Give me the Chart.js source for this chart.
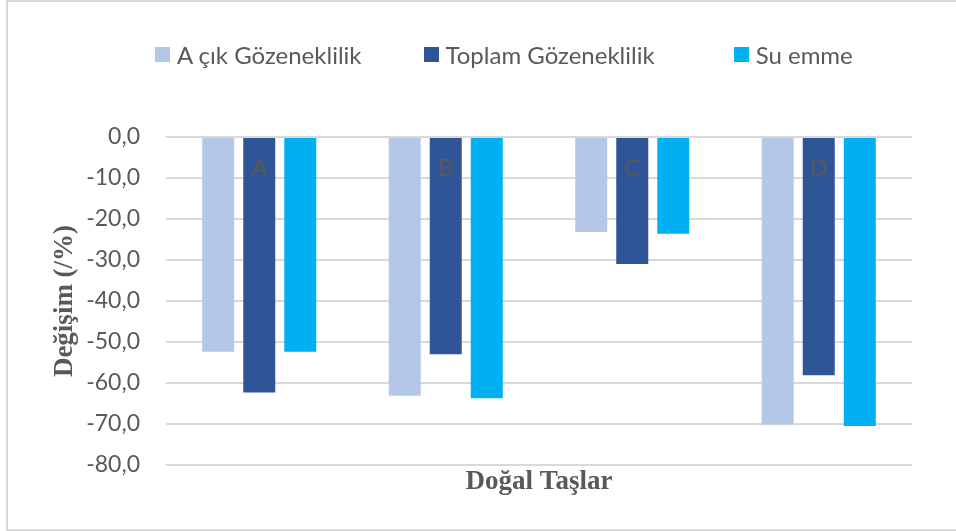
<!DOCTYPE html>
<html>
<head>
<meta charset="utf-8">
<script src="https://cdn.jsdelivr.net/npm/chart.js@4"></script>
<style>
  html, body { margin: 0; padding: 0; background: #ffffff; }
  #wrap { position: relative; width: 956px; height: 531px; overflow: hidden; }
  #frame { position: absolute; left: 6px; top: 0; width: 1000px; height: 527px;
           border-left: 2px solid #d9d9d9; border-top: 2px solid #d9d9d9; border-bottom: 2px solid #d9d9d9; }
  canvas { position: absolute; left: 0; top: 0; }
  #legend { position: absolute; left: 155px; top: 39px; height: 30px; display: flex; align-items: center;
            font-family: Lato, "Open Sans", sans-serif; font-size: 24px; color: #595959; white-space: nowrap; }
  .item { display: flex; align-items: center; }
  .box { width: 15px; height: 15px; margin-right: 7px; }
</style>
</head>
<body>
<div id="wrap">
  <div id="frame"></div>
  <canvas id="c" width="956" height="531"></canvas>
  <div id="legend"></div>
</div>
<script>
const categories = ['A', 'B', 'C', 'D'];
const seriesNames = ['A çık Gözeneklilik', 'Toplam Gözeneklilik', 'Su emme'];
const acikGozeneklilik = [-52.4, -63.1, -23.2, -70.1];
const toplamGozeneklilik = [-62.3, -53.0, -31.0, -58.1];
const suEmme = [-52.4, -63.7, -23.6, -70.5];
const seriesColors = ['#B4C7E7', '#2F5597', '#00B0F0'];
const yTicks = [0, -10, -20, -30, -40, -50, -60, -70, -80];
const yTitle = 'Değişim (/%)';
const xTitle = 'Doğal Taşlar';

const grey = '#595959';
const sansFont = 'Lato, "Open Sans", sans-serif';
const serifFont = '"Liberation Serif", "DejaVu Serif", serif';
const legendGaps = [62, 79, 0];

const seriesValues = [acikGozeneklilik, toplamGozeneklilik, suEmme];

// HTML legend built from the series arrays
const legendEl = document.getElementById('legend');
seriesNames.forEach((name, i) => {
  const item = document.createElement('div');
  item.className = 'item';
  item.style.marginRight = legendGaps[i] + 'px';
  const box = document.createElement('span');
  box.className = 'box';
  box.style.background = seriesColors[i];
  const txt = document.createElement('span');
  txt.textContent = name;
  item.appendChild(box);
  item.appendChild(txt);
  legendEl.appendChild(item);
});

const fmt = v => {
  const n = Math.abs(v) < 1e-9 ? 0 : v;
  return n.toFixed(1).replace('.', ',');
};

new Chart(document.getElementById('c'), {
  type: 'bar',
  data: {
    labels: categories,
    datasets: seriesNames.map((name, i) => ({
      label: name,
      data: seriesValues[i],
      backgroundColor: seriesColors[i],
      borderWidth: 0,
      xAxisID: 'x',
      yAxisID: 'y',
      categoryPercentage: 0.66,
      barPercentage: 0.78
    }))
  },
  options: {
    responsive: false,
    animation: false,
    devicePixelRatio: 1,
    layout: { padding: { top: 137, left: 0, right: 44, bottom: 33 } },
    plugins: {
      legend: { display: false },
      tooltip: { enabled: false }
    },
    scales: {
      x: {
        type: 'category',
        axis: 'x',
        position: 'bottom',
        offset: true,
        grid: { display: false, drawTicks: false },
        border: { display: false },
        ticks: { display: false },
        title: {
          display: true,
          text: xTitle,
          color: grey,
          font: { family: serifFont, size: 27, weight: 'bold' },
          padding: { top: 0, bottom: 0 }
        },
        afterFit: s => { s.height = 33; }
      },
      xLab: {
        type: 'category',
        axis: 'x',
        labels: categories,
        position: { y: 0 },
        offset: true,
        grid: { display: false, drawTicks: false },
        border: { display: false },
        ticks: {
          z: 1,
          color: grey,
          padding: 18,
          maxRotation: 0,
          font: { family: sansFont, size: 23 }
        }
      },
      y: {
        type: 'linear',
        position: 'left',
        min: -80,
        max: 0,
        afterBuildTicks: s => { s.ticks = yTicks.map(v => ({ value: v })); },
        grid: { color: '#d9d9d9', lineWidth: 2, drawTicks: false },
        border: { display: false },
        ticks: {
          color: grey,
          padding: 26,
          font: { family: sansFont, size: 23 },
          callback: v => fmt(v)
        },
        title: {
          display: true,
          text: yTitle,
          color: grey,
          font: { family: serifFont, size: 27, weight: 'bold' },
          padding: { top: 49, bottom: 0 }
        },
        afterFit: s => { s.width = 166; }
      }
    }
  }
});
</script>
</body>
</html>
